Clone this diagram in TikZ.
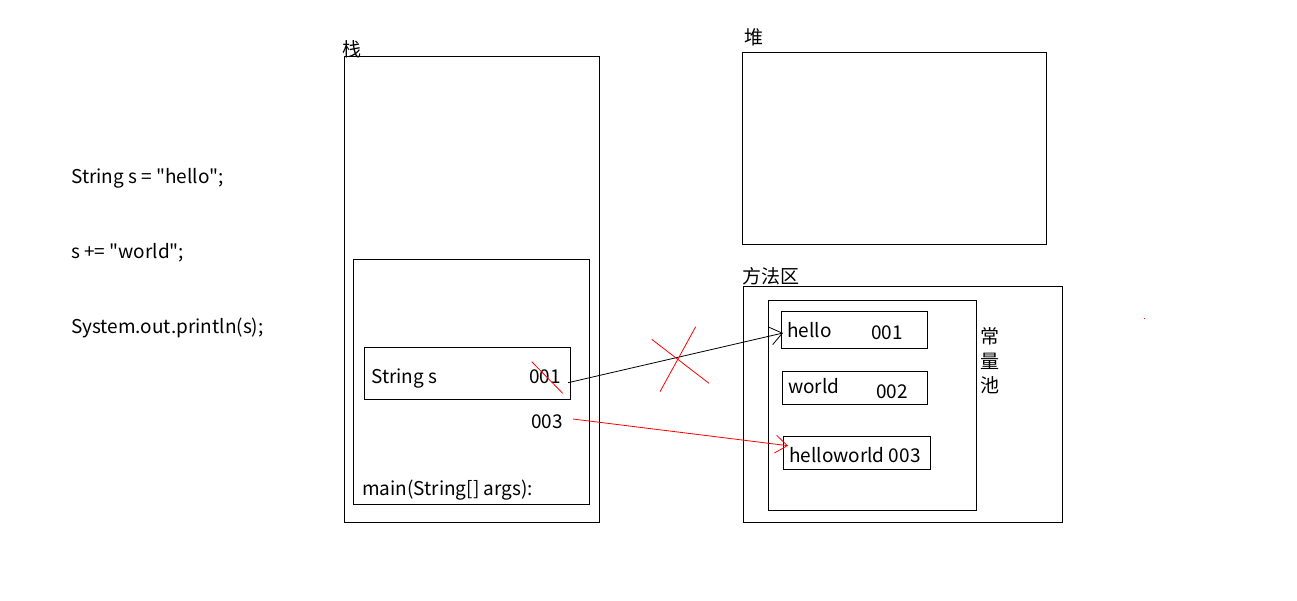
\documentclass[tikz,border=0pt]{standalone}
\usepackage{fontspec}
\newfontfamily\diagfont{Noto Sans CJK SC}
\usetikzlibrary{arrows.meta}
\begin{document}
\begin{tikzpicture}[x=1pt,y=-1pt,
  box/.style={draw=black,line width=1pt,inner sep=0pt,anchor=north west},
  txt/.style={inner sep=0pt,anchor=base west,font=\diagfont\fontsize{19}{22}\selectfont},
  cjk/.style={inner sep=0pt,anchor=center,font=\diagfont\fontsize{19}{22}\selectfont},
  ptr/.style={line width=0.8pt,-{Straight Barb[length=12pt,width=18pt,line width=0.8pt]}},
  cross/.style={red,line width=0.8pt}]
\useasboundingbox (0,0) rectangle (1297,600);
% left code
\node[txt] (c1) at (71,183) {String s = "hello";};
\node[txt] (c2) at (71,258) {s += "world";};
\node[txt] (c3) at (71,333) {System.out.println(s);};
% stack
\node[box,minimum width=255pt,minimum height=466pt] (stack) at (344,56) {};
\node[cjk] (stacklbl) at (352,49) {栈};
\node[box,minimum width=236pt,minimum height=245pt] (frame) at (353,259) {};
\node[box,minimum width=206pt,minimum height=52pt] (sbox) at (364,347) {};
\node[txt] (stxt) at (371,383) {String s};
\node[txt] (s001) at (529,383) {001};
\node[txt] (s003) at (531,428.5) {003};
\node[txt] (mainlbl) at (362,495) {main(String[] args):};
% heap
\node[box,minimum width=304pt,minimum height=192pt] (heap) at (742,52) {};
\node[cjk] (heaplbl) at (753.5,37.5) {堆};
% method area
\node[box,minimum width=319pt,minimum height=236pt] (method) at (743,286) {};
\node[cjk] (methodlbl) at (771,276) {方法区};
\node[box,minimum width=208pt,minimum height=210pt] (pool) at (768,300) {};
\node[cjk] (p1) at (990,336) {常};
\node[cjk] (p2) at (990,361) {量};
\node[cjk] (p3) at (990,385) {池};
\node[box,minimum width=146pt,minimum height=37pt] (hbox) at (781,311) {};
\node[txt] (htxt) at (787,337) {hello};
\node[txt] (h001) at (871,339) {001};
\node[box,minimum width=145pt,minimum height=33pt] (wbox) at (782,371) {};
\node[txt] (wtxt) at (788,393.5) {world};
\node[txt] (w002) at (876,398.5) {002};
\node[box,minimum width=147pt,minimum height=33pt] (hwbox) at (783,436) {};
\node[txt] (hwtxt) at (789,462) {helloworld 003};
% connectors
\coordinate (a1s) at (568,382.7);
\coordinate (a1e) at (783,333);
\draw[ptr] (a1s) -- (a1e);
\coordinate (a2s) at (573,419);
\coordinate (a2e) at (788,445.7);
\draw[ptr,red] (a2s) -- (a2e);
% red crosses
\coordinate (x1a) at (651.7,339.3);
\coordinate (x1b) at (709,383.3);
\coordinate (x2a) at (695.7,326.7);
\coordinate (x2b) at (660,391.7);
\draw[cross] (x1a) -- (x1b);
\draw[cross] (x2a) -- (x2b);
\coordinate (y1a) at (531.7,361.7);
\coordinate (y1b) at (562.7,393.3);
\draw[cross] (y1a) -- (y1b);
\fill[red] (1143.5,317.5) rectangle (1145,319);
\end{tikzpicture}
\end{document}
